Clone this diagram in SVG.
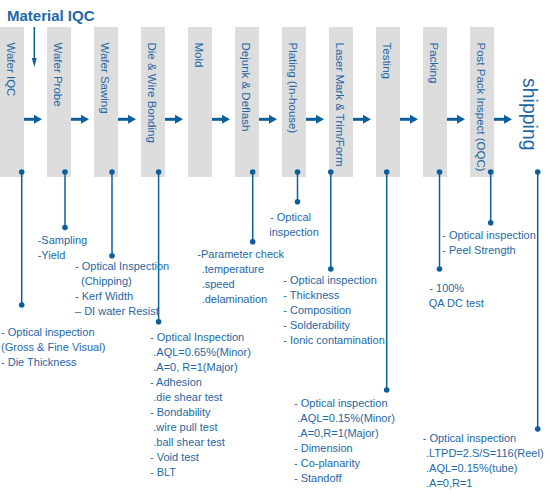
<svg xmlns="http://www.w3.org/2000/svg" width="550" height="500" viewBox="0 0 550 500">
<style>
.box{fill:#dddddd}
.lbl{font-family:"Liberation Sans",Arial,sans-serif;font-size:11.5px;fill:#1e68a6}
.note{font-family:"Liberation Sans",Arial,sans-serif;font-size:11px;fill:#1e68a6}
.flow{stroke:#0d5f9c;stroke-width:3;fill:none}
.lead{stroke:#0d5f9c;stroke-width:1.5;fill:none}
.dot{fill:#0d5f9c}
</style>
<defs>
<marker id="ah" markerUnits="userSpaceOnUse" markerWidth="9" markerHeight="9" refX="1" refY="4.5" orient="auto">
<path d="M0,0 L8,4.5 L0,9 Z" fill="#0d5f9c"/>
</marker>
</defs>
<rect width="550" height="500" fill="#ffffff"/>
<g id="material-iqc">
<text x="7" y="20.5" font-family="'Liberation Sans',Arial,sans-serif" font-size="15" font-weight="bold" fill="#1e68a6">Material IQC</text>
</g>
<g id="wafer-iqc"><rect class="box" x="0" y="27" width="24" height="150"/><text class="lbl" transform="translate(7,42.5) rotate(90)">Wafer IQC</text></g>
<g id="wafer-probe"><rect class="box" x="47" y="27" width="24" height="150"/><text class="lbl" transform="translate(54,42.5) rotate(90)">Wafer Probe</text></g>
<g id="wafer-sawing"><rect class="box" x="94" y="27" width="24" height="150"/><text class="lbl" transform="translate(101,42.5) rotate(90)">Wafer Sawing</text></g>
<g id="die-wire-bonding"><rect class="box" x="141" y="27" width="24" height="150"/><text class="lbl" transform="translate(148,42.5) rotate(90)">Die &amp; Wire Bonding</text></g>
<g id="mold"><rect class="box" x="188" y="27" width="24" height="150"/><text class="lbl" transform="translate(195,42.5) rotate(90)">Mold</text></g>
<g id="dejunk-deflash"><rect class="box" x="235" y="27" width="24" height="150"/><text class="lbl" transform="translate(242,42.5) rotate(90)">Dejunk &amp; Deflash</text></g>
<g id="plating"><rect class="box" x="282" y="27" width="24" height="150"/><text class="lbl" transform="translate(289,42.5) rotate(90)">Plating (In-house)</text></g>
<g id="laser-mark"><rect class="box" x="329" y="27" width="24" height="150"/><text class="lbl" transform="translate(336,42.5) rotate(90)">Laser Mark &amp; Trim/Form</text></g>
<g id="testing"><rect class="box" x="376" y="27" width="24" height="150"/><text class="lbl" transform="translate(383,42.5) rotate(90)">Testing</text></g>
<g id="packing"><rect class="box" x="423" y="27" width="24" height="150"/><text class="lbl" transform="translate(430,42.5) rotate(90)">Packing</text></g>
<g id="post-pack-inspect"><rect class="box" x="470" y="27" width="24" height="150"/><text class="lbl" transform="translate(477,42.5) rotate(90)">Post Pack Inspect (OQC)</text></g>
<g id="shipping"><text transform="translate(523,78) rotate(90)" font-family="'Liberation Sans',Arial,sans-serif" font-size="19.5" fill="#1e68a6">shipping</text></g>

<g id="connectors">
<line class="lead" x1="34.3" y1="27" x2="34.3" y2="60"/>
<path d="M31.8,58 L36.8,58 L34.3,67 Z" fill="#0d5f9c"/>
<line class="flow" x1="24" y1="119.3" x2="35" y2="119.3" marker-end="url(#ah)"/>
<line class="flow" x1="71" y1="119.3" x2="82" y2="119.3" marker-end="url(#ah)"/>
<line class="flow" x1="118" y1="119.3" x2="129" y2="119.3" marker-end="url(#ah)"/>
<line class="flow" x1="165" y1="119.3" x2="176" y2="119.3" marker-end="url(#ah)"/>
<line class="flow" x1="212" y1="119.3" x2="223" y2="119.3" marker-end="url(#ah)"/>
<line class="flow" x1="259" y1="119.3" x2="270" y2="119.3" marker-end="url(#ah)"/>
<line class="flow" x1="306" y1="119.3" x2="317" y2="119.3" marker-end="url(#ah)"/>
<line class="flow" x1="353" y1="119.3" x2="364" y2="119.3" marker-end="url(#ah)"/>
<line class="flow" x1="400" y1="119.3" x2="411" y2="119.3" marker-end="url(#ah)"/>
<line class="flow" x1="447" y1="119.3" x2="458" y2="119.3" marker-end="url(#ah)"/>
<line class="flow" x1="494" y1="119.3" x2="505" y2="119.3" marker-end="url(#ah)"/>

<line class="lead" x1="21.7" y1="172" x2="21.7" y2="305"/><circle class="dot" cx="21.7" cy="172" r="2.8"/><circle class="dot" cx="21.7" cy="305" r="2.8"/>
<line class="lead" x1="65" y1="172" x2="65" y2="227.5"/><circle class="dot" cx="65" cy="172" r="2.8"/><circle class="dot" cx="65" cy="227.5" r="2.8"/>
<line class="lead" x1="112" y1="172" x2="112" y2="255.7"/><circle class="dot" cx="112" cy="172" r="2.8"/><circle class="dot" cx="112" cy="255.7" r="2.8"/>
<line class="lead" x1="158.6" y1="172" x2="158.6" y2="321.7"/><circle class="dot" cx="158.6" cy="172" r="2.8"/><circle class="dot" cx="158.6" cy="321.7" r="2.8"/>
<line class="lead" x1="252.7" y1="172" x2="252.7" y2="241.7"/><circle class="dot" cx="252.7" cy="172" r="2.8"/><circle class="dot" cx="252.7" cy="241.7" r="2.8"/>
<line class="lead" x1="297.5" y1="172" x2="297.5" y2="201.7"/><circle class="dot" cx="297.5" cy="172" r="2.8"/><circle class="dot" cx="297.5" cy="201.7" r="2.8"/>
<line class="lead" x1="330.8" y1="172" x2="330.8" y2="269"/><circle class="dot" cx="330.8" cy="172" r="2.8"/><circle class="dot" cx="330.8" cy="269" r="2.8"/>
<line class="lead" x1="386.7" y1="172" x2="386.7" y2="390"/><circle class="dot" cx="386.7" cy="172" r="2.8"/><circle class="dot" cx="386.7" cy="390" r="2.8"/>
<line class="lead" x1="439.5" y1="172" x2="439.5" y2="269"/><circle class="dot" cx="439.5" cy="172" r="2.8"/><circle class="dot" cx="439.5" cy="269" r="2.8"/>
<line class="lead" x1="490.7" y1="172" x2="490.7" y2="222.7"/><circle class="dot" cx="490.7" cy="172" r="2.8"/><circle class="dot" cx="490.7" cy="222.7" r="2.8"/>
<line class="lead" x1="537.7" y1="172" x2="537.7" y2="429"/><circle class="dot" cx="537.7" cy="172" r="2.8"/><circle class="dot" cx="537.7" cy="429" r="2.8"/>
</g>

<g id="note-wafer-iqc" class="note">
<text x="1" y="335.5">- Optical inspection</text>
<text x="1" y="350.5">(Gross &amp; Fine Visual)</text>
<text x="1" y="365.5">- Die Thickness</text>
</g>
<g id="note-wafer-probe" class="note">
<text x="37.7" y="244.3">-Sampling</text>
<text x="37.7" y="259.3">-Yield</text>
</g>
<g id="note-wafer-sawing" class="note">
<text x="75" y="269.7">- Optical Inspection</text>
<text x="81" y="284.7">(Chipping)</text>
<text x="75" y="299.7">- Kerf Width</text>
<text x="75" y="314.7">– DI water Resist</text>
</g>
<g id="note-die-wire" class="note">
<text x="150" y="341.3">- Optical Inspection</text>
<text x="153.3" y="356.3">.AQL=0.65%(Minor)</text>
<text x="153.3" y="371.3">.A=0, R=1(Major)</text>
<text x="150" y="386.3">- Adhesion</text>
<text x="153.3" y="401.3">.die shear test</text>
<text x="150" y="416.3">- Bondability</text>
<text x="153.3" y="431.3">.wire pull test</text>
<text x="153.3" y="446.3">.ball shear test</text>
<text x="150" y="461.3">- Void test</text>
<text x="150" y="476.3">- BLT</text>
</g>
<g id="note-dejunk" class="note">
<text x="197.3" y="258.3">-Parameter check</text>
<text x="201.7" y="273.3">.temperature</text>
<text x="201.7" y="288.3">.speed</text>
<text x="201.7" y="303.3">.delamination</text>
</g>
<g id="note-plating" class="note">
<text x="270" y="220.7">- Optical</text>
<text x="269.3" y="235.7">inspection</text>
</g>
<g id="note-laser" class="note">
<text x="283.3" y="284.3">- Optical inspection</text>
<text x="283.3" y="299.3">- Thickness</text>
<text x="283.3" y="314.3">- Composition</text>
<text x="283.3" y="329.3">- Solderability</text>
<text x="283.3" y="344.3">- Ionic contamination</text>
</g>
<g id="note-testing" class="note">
<text x="294" y="407.3">- Optical inspection</text>
<text x="297.3" y="422.3">.AQL=0.15%(Minor)</text>
<text x="297.3" y="437.3">.A=0,R=1(Major)</text>
<text x="294" y="452.3">- Dimension</text>
<text x="294" y="467.3">- Co-planarity</text>
<text x="294" y="482.3">- Standoff</text>
</g>
<g id="note-packing" class="note">
<text x="429.3" y="292">- 100%</text>
<text x="428.7" y="307">QA DC test</text>
</g>
<g id="note-post-pack" class="note">
<text x="442.3" y="239.3">- Optical inspection</text>
<text x="442.3" y="254.3">- Peel Strength</text>
</g>
<g id="note-shipping" class="note">
<text x="422.7" y="442.3">- Optical inspection</text>
<text x="426" y="457.3">.LTPD=2.S/S=116(Reel)</text>
<text x="426" y="472.3">.AQL=0.15%(tube)</text>
<text x="426" y="487.3">.A=0,R=1</text>
</g>
</svg>
